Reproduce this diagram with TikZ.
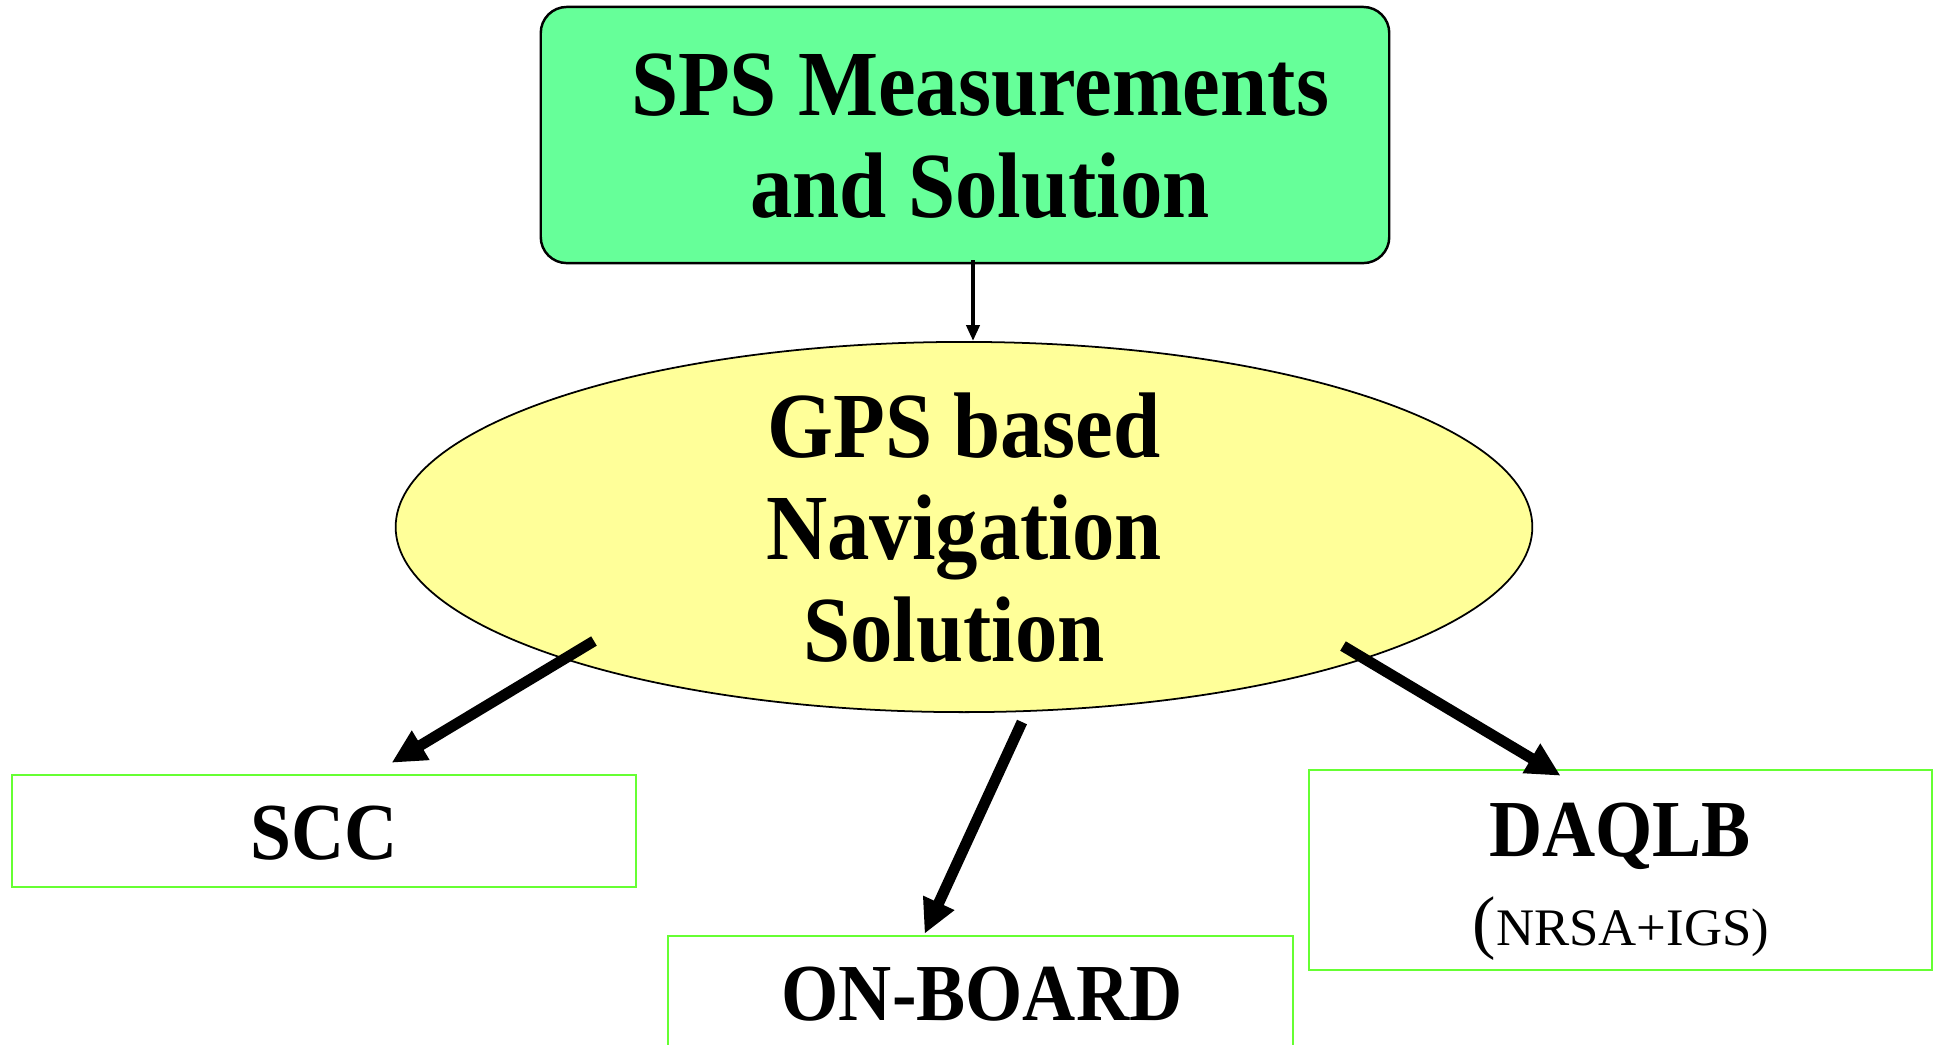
\documentclass[tikz,border=0pt]{standalone}
\usepackage{fontspec}
\setmainfont{Liberation Serif}
\newfontfamily\narrowserif{Liberation Serif}[FakeStretch=0.91]
\usetikzlibrary{shapes.geometric,arrows.meta,calc}
\definecolor{spsgreen}{RGB}{102,255,153}
\definecolor{navyellow}{RGB}{255,255,153}
\definecolor{edgegreen}{RGB}{102,255,51}
\begin{document}
\begin{tikzpicture}[x=0.01cm,y=-0.01cm,
  bigtext/.style={font=\narrowserif\bfseries\fontsize{26.5}{29}\selectfont,align=center,inner sep=0pt},
  boxtext/.style={font=\narrowserif\bfseries\fontsize{23}{26}\selectfont,inner sep=0pt,anchor=base},
  subtext/.style={font=\fontsize{15}{18}\selectfont,inner sep=0pt,anchor=base},
  spsbox/.style={draw=black,line width=0.7pt,fill=spsgreen,rounded corners=0.26cm,inner sep=0pt},
  navell/.style={ellipse,draw=black,line width=0.5pt,fill=navyellow,inner sep=0pt},
  outbox/.style={draw=edgegreen,line width=0.7pt,fill=white,inner sep=0pt},
  thinarrow/.style={line width=1.2pt,-{Triangle[length=0.16cm,width=0.13cm]}},
  thickarrow/.style={line width=3.1pt,-{Triangle[length=0.34cm,width=0.32cm]}}]
\useasboundingbox (0,0) rectangle (1936,1044);
\clip (0,0) rectangle (1936,1044);

% source box
\node[spsbox,minimum width=8.48cm,minimum height=2.56cm] (sps) at (965,135) {};
\node[bigtext] (spstxt) at (980,136) {SPS Measurements\\and Solution};

% navigation ellipse
\node[navell,minimum width=11.36cm,minimum height=3.70cm] (gps) at (964,527) {};
\node[bigtext] (gpstxt) at (964,528) {GPS based\\Navigation\\Solution\hspace*{0.2cm}};

% output boxes
\node[outbox,minimum width=6.24cm,minimum height=1.12cm] (scc) at (324,831) {};
\node[boxtext] (scctxt) at (324,859) {SCC};

\node[outbox,minimum width=6.25cm,minimum height=1.40cm] (onb) at (980.5,1006) {};
\node[boxtext] (onbtxt) at (982,1020) {ON-BOARD};

\node[outbox,minimum width=6.23cm,minimum height=2.00cm] (daq) at (1620.5,870) {};
\node[boxtext] (daqtxt) at (1620,856) {DAQLB};
\node[subtext] (daqsub) at (1621,945) {{\fontsize{20}{22}\selectfont(}NRSA+IGS)};

% connector end points
\coordinate (spsout) at ($(sps.south)+(8,-4)$);
\coordinate (gpsin) at ($(gps.north)+(9,0)$);
\coordinate (tailscc) at ($(gps.center)+(-370,114)$);
\coordinate (tailonb) at ($(gps.center)+(58,195)$);
\coordinate (taildaq) at ($(gps.center)+(379,119)$);
\coordinate (headscc) at ($(scc.north west)+(381,-11)$);
\coordinate (headonb) at ($(onb.north west)+(258,-1)$);
\coordinate (headdaq) at ($(daq.north west)+(253,7)$);

% connectors
\draw[thinarrow] (spsout) -- (gpsin);
\draw[thickarrow] (tailscc) -- (headscc);
\draw[thickarrow] (tailonb) -- (headonb);
\draw[thickarrow] (taildaq) -- (headdaq);
\end{tikzpicture}
\end{document}
